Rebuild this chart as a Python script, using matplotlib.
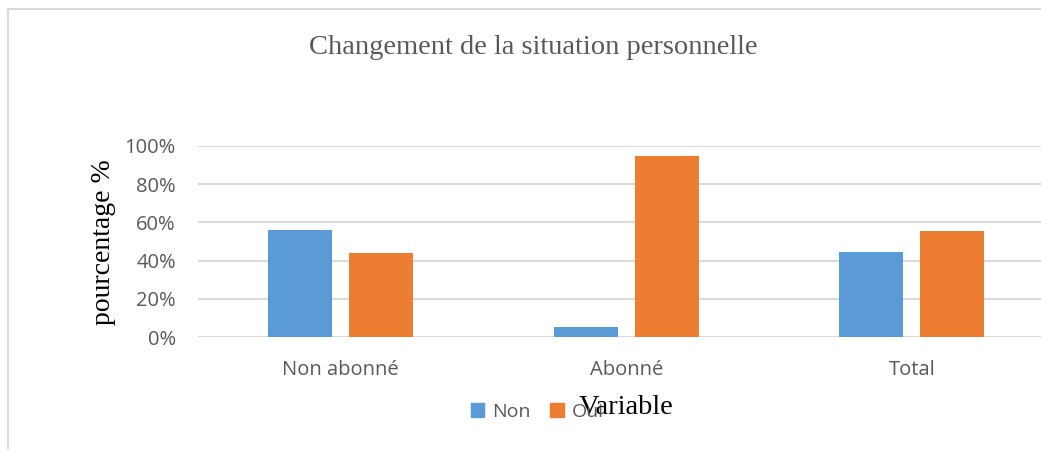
import numpy as np
import matplotlib
matplotlib.use("Agg")
import matplotlib.pyplot as plt
from matplotlib.lines import Line2D
from matplotlib.patches import Patch
from matplotlib.ticker import PercentFormatter

categories = ["Non abonné", "Abonné", "Total"]
non_values = [0.5625, 0.0556, 0.443]
oui_values = [0.4375, 0.9444, 0.557]
series_names = ["Non", "Oui"]

BLUE = "#5B9BD5"
ORANGE = "#ED7D31"
GRID = "#D9D9D9"
TEXT = "#595959"

W, H = 1041, 449
fig = plt.figure(figsize=(W / 100, H / 100), dpi=100)
fig.patch.set_facecolor("white")

# chart area border (left and top only visible)
fig.add_artist(Line2D([8 / W, 8 / W], [0, 1 - 9 / H], color=GRID, lw=1.5,
                      transform=fig.transFigure))
fig.add_artist(Line2D([8 / W, 1], [1 - 9 / H, 1 - 9 / H], color=GRID, lw=1.5,
                      transform=fig.transFigure))

ax = fig.add_axes([198 / W, 111.7 / H, 3 * 285.5 / W, 191.6 / H])
x = np.arange(len(categories))
width = 0.224
off = 0.142
ax.bar(x - off, non_values, width, color=BLUE, zorder=3)
ax.bar(x + off, oui_values, width, color=ORANGE, zorder=3)

ax.set_xlim(-0.5, len(categories) - 0.5)
ax.set_ylim(0, 1)
ax.set_yticks(np.arange(0, 1.01, 0.2))
ax.yaxis.set_major_formatter(PercentFormatter(1.0, decimals=0))
ax.grid(axis="y", color=GRID, lw=1.5, zorder=0)
ax.set_axisbelow(True)
for s in ax.spines.values():
    s.set_visible(False)
ax.set_xticks(x, categories)
ax.tick_params(length=0, labelsize=14.5, labelcolor=TEXT)
ax.tick_params(axis="y", pad=16)
ax.tick_params(axis="x", pad=16)
for lab in ax.get_xticklabels() + ax.get_yticklabels():
    lab.set_family("Open Sans")

fig.text(533 / W, 1 - 47 / H, "Changement de la situation personnelle",
         ha="center", va="center", family="Liberation Serif", fontsize=20.5,
         color=TEXT)
fig.text(104 / W, 1 - 242 / H, "pourcentage %", rotation=90, ha="center",
         va="center", family="Liberation Serif", fontsize=20, color="black")

handles = [Patch(color=BLUE), Patch(color=ORANGE)]
fig.legend(handles, series_names, loc="center", bbox_to_anchor=(537 / W, 1 - 412 / H),
           ncol=2, frameon=False, handlelength=0.7, handleheight=0.7,
           handletextpad=0.4, columnspacing=1.0,
           prop={"family": "Open Sans", "size": 14}, labelcolor=TEXT)

fig.text(626 / W, 1 - 407 / H, "Variable", ha="center", va="center",
         family="Liberation Serif", fontsize=20.5, color="black")

fig.savefig("out.png", dpi=100)
